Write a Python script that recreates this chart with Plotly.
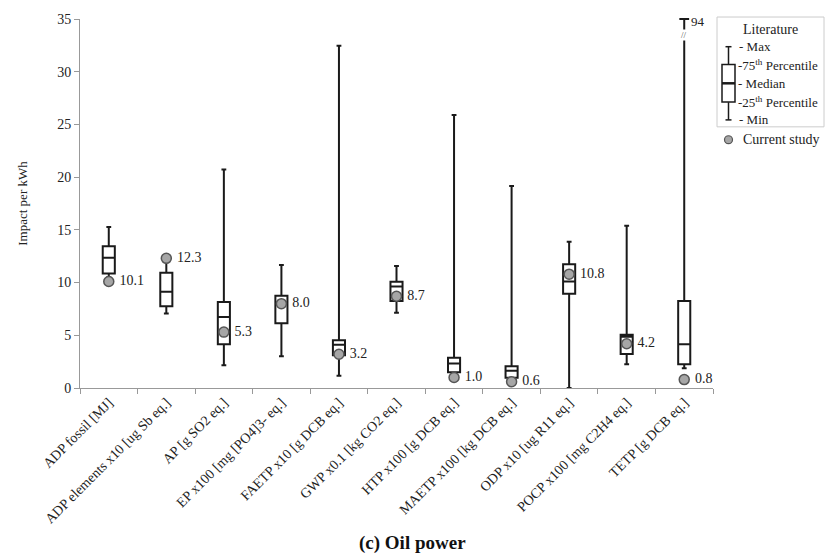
import plotly.graph_objects as go

categories = ["ADP fossil [MJ]", "ADP elements x10 [ug Sb eq.]", "AP [g SO2 eq.]",
              "EP x100 [mg [PO4]3- eq.]", "FAETP x10 [g DCB eq.]", "GWP x0.1 [kg CO2 eq.]",
              "HTP x100 [g DCB eq.]", "MAETP x100 [kg DCB eq.]", "ODP x10 [ug R11 eq.]",
              "POCP x100 [mg C2H4 eq.]", "TETP [g DCB eq.]"]
lit_min = [10.5, 7.07, 2.16, 3.0, 1.16, 7.13, 1.4, 0.9, 0.0, 2.25, 1.88]
lit_q1 = [10.85, 7.76, 4.16, 6.13, 3.1, 8.26, 1.5, 0.98, 8.95, 3.22, 2.25]
lit_median = [12.35, 9.13, 6.73, 8.1, 4.1, 9.63, 2.32, 1.63, 10.1, 4.85, 4.16]
lit_q3 = [13.45, 10.92, 8.16, 8.76, 4.54, 10.07, 2.88, 2.06, 11.73, 5.04, 8.26]
lit_max = [15.26, 12.2, 20.73, 11.67, 32.46, 11.58, 25.9, 19.17, 13.88, 15.38, 94.0]
current = [10.1, 12.3, 5.3, 8.0, 3.2, 8.7, 1.0, 0.6, 10.8, 4.2, 0.8]
current_labels = ["10.1", "12.3", "5.3", "8.0", "3.2", "8.7", "1.0", "0.6", "10.8", "4.2", "0.8"]
Y_MAX = 35

FONT = "Liberation Serif, Times New Roman, serif"
DARK = "#1a1a1a"

fig = go.Figure()
fig.add_trace(go.Box(
    x=categories, q1=lit_q1, median=lit_median, q3=lit_q3,
    lowerfence=lit_min, upperfence=lit_max,
    boxpoints=False, fillcolor="white",
    line=dict(color=DARK, width=2), whiskerwidth=0.4, width=0.21,
    showlegend=False, hoverinfo="skip"))

fig.add_trace(go.Scatter(
    x=categories, y=current, mode="markers+text",
    text=[" " + t for t in current_labels], textposition="middle right",
    textfont=dict(family=FONT, size=14, color="#222"),
    marker=dict(size=10, color="#a6a6a6", line=dict(color="#555", width=1.5)),
    showlegend=False, cliponaxis=False))

# cap of the broken TETP whisker at the top of the axis
top_idx = lit_max.index(max(lit_max))
fig.add_trace(go.Scatter(
    x=[categories[top_idx]], y=[Y_MAX], mode="markers",
    marker=dict(symbol="line-ew-open", size=7, color=DARK, line=dict(color=DARK, width=2)),
    showlegend=False, cliponaxis=False, hoverinfo="skip"))
fig.add_annotation(x=categories[top_idx], y=Y_MAX, text=str(int(max(lit_max))),
                   showarrow=False, xanchor="left", yanchor="middle", xshift=5, yshift=-2,
                   font=dict(family=FONT, size=13, color="#222"))
fig.add_annotation(x=categories[top_idx], y=Y_MAX - 1.5, text="//",
                   showarrow=False, xanchor="center", yanchor="middle",
                   font=dict(family=FONT, size=9, color="#555"), bgcolor="white", borderpad=0)

# custom legend
def px(x):
    return (x - 80) / 633
def py(y):
    return (388 - y) / 373

shapes = []
shapes.append(dict(type="rect", xref="paper", yref="paper", x0=px(717), x1=px(824), y0=py(124), y1=py(13),
                   line=dict(color="#cccccc", width=1), fillcolor="white", layer="below"))
cx = px(728.5)
shapes.append(dict(type="line", xref="paper", yref="paper", x0=cx, x1=cx, y0=py(43), y1=py(61), line=dict(color=DARK, width=1.5)))
shapes.append(dict(type="line", xref="paper", yref="paper", x0=cx, x1=cx, y0=py(99), y1=py(117), line=dict(color=DARK, width=1.5)))
shapes.append(dict(type="line", xref="paper", yref="paper", x0=px(725.5), x1=px(731.5), y0=py(43), y1=py(43), line=dict(color=DARK, width=1.5)))
shapes.append(dict(type="line", xref="paper", yref="paper", x0=px(725.5), x1=px(731.5), y0=py(117), y1=py(117), line=dict(color=DARK, width=1.5)))
shapes.append(dict(type="rect", xref="paper", yref="paper", x0=px(722), x1=px(735), y0=py(99), y1=py(61), line=dict(color=DARK, width=1.5), fillcolor="white"))
shapes.append(dict(type="line", xref="paper", yref="paper", x0=px(722), x1=px(735), y0=py(80), y1=py(80), line=dict(color=DARK, width=2.5)))
shapes.append(dict(type="circle", xref="paper", yref="paper", x0=px(724.5), x1=px(732.5), y0=py(141), y1=py(133),
                   line=dict(color="#555", width=1.2), fillcolor="#a6a6a6"))
fig.update_layout(shapes=shapes)

legend_font = dict(family=FONT, size=13, color="#222")
fig.add_annotation(xref="paper", yref="paper", x=px(770), y=py(26), text="Literature", showarrow=False,
                   xanchor="center", yanchor="middle", font=dict(family=FONT, size=14, color="#222"))
for xpix, ypix, label in [(737, 43, "- Max"), (736, 61, "-75<sup>th</sup> Percentile"), (736, 80, "- Median"),
                          (736, 99, "-25<sup>th</sup> Percentile"), (737, 117, "- Min")]:
    fig.add_annotation(xref="paper", yref="paper", x=px(xpix), y=py(ypix), text=label, showarrow=False,
                       xanchor="left", yanchor="middle", font=legend_font)
fig.add_annotation(xref="paper", yref="paper", x=px(741), y=py(137), text="Current study", showarrow=False,
                   xanchor="left", yanchor="middle", font=dict(family=FONT, size=14, color="#222"))

fig.add_annotation(xref="paper", yref="paper", x=px(412), y=py(545), text="<b>(c) Oil power</b>",
                   showarrow=False, xanchor="center", yanchor="middle",
                   font=dict(family=FONT, size=19, color="#111"))

fig.update_layout(
    width=825, height=559, margin=dict(l=80, r=112, t=15, b=171),
    paper_bgcolor="white", plot_bgcolor="white",
    font=dict(family=FONT, size=14, color="#222"),
    xaxis=dict(type="category", categoryorder="array", categoryarray=categories,
               range=[-0.5, len(categories) - 0.5],
               showline=True, linecolor="#999", linewidth=1, ticks="outside", tickson="boundaries",
               ticklen=5, tickcolor="#999", tickangle=-45, showgrid=False,
               tickfont=dict(family=FONT, size=14, color="#222")),
    yaxis=dict(range=[0, Y_MAX], dtick=5, showline=True, linecolor="#999", linewidth=1,
               ticks="outside", ticklen=5, tickcolor="#999", showgrid=False, zeroline=False,
               tickfont=dict(family=FONT, size=14, color="#222"),
               title=dict(text="Impact per kWh", font=dict(family=FONT, size=13, color="#222"), standoff=26)),
)

fig.write_html("out.html")
